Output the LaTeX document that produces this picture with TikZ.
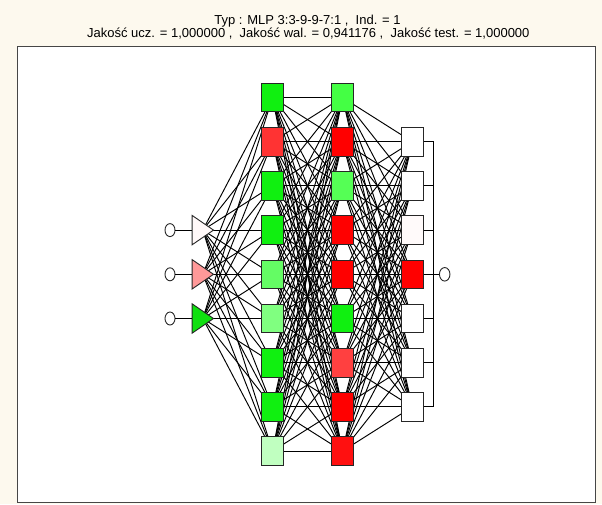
\documentclass[tikz,border=0pt]{standalone}
\usepackage{fontspec}
\setmainfont{Liberation Sans}
\usetikzlibrary{shapes.geometric}

\definecolor{cream}{RGB}{253,249,238}
\definecolor{frame}{RGB}{70,70,70}
\definecolor{gA}{RGB}{16,240,16}
\definecolor{gB}{RGB}{100,252,100}
\definecolor{gC}{RGB}{128,255,128}
\definecolor{gD}{RGB}{192,255,192}
\definecolor{gE}{RGB}{68,255,68}
\definecolor{gF}{RGB}{85,255,85}
\definecolor{gI}{RGB}{16,224,16}
\definecolor{rA}{RGB}{255,0,0}
\definecolor{rB}{RGB}{255,51,51}
\definecolor{rC}{RGB}{255,64,64}
\definecolor{rD}{RGB}{255,16,16}
\definecolor{pI}{RGB}{255,153,153}
\definecolor{wA}{RGB}{255,255,255}
\definecolor{wB}{RGB}{255,250,250}
\definecolor{wI}{RGB}{255,248,248}

\pgfdeclarelayer{back}
\pgfsetlayers{back,main}

\begin{document}
\begin{tikzpicture}[x=1pt, y=-1pt,
    unit/.style={draw=black!85, line width=0.9pt, minimum width=21.5pt, minimum height=28.5pt, inner sep=0pt},
    port/.style={ellipse, draw=black!85, fill=white, line width=0.9pt, inner sep=0pt},
    wire/.style={line width=0.95pt}]
  \useasboundingbox (0,0) rectangle (602,504);

  % title
  \node[anchor=base, font=\fontsize{13}{13}\selectfont] (t1) at (307.5,24) {Typ : MLP 3:3-9-9-7:1 ,\ \ Ind. = 1};
  \node[anchor=base, font=\fontsize{13}{13}\selectfont] (t2) at (308.3,37.3) {Jakość ucz. = 1,000000 ,\ \ Jakość wal. = 0,941176 ,\ \ Jakość test. = 1,000000};

  % hidden layers
  \foreach \c [count=\k] in {gA,rB,gA,gA,gB,gC,gA,gA,gD}
    \node[unit, fill=\c] (a\k) at (272.5, 53.3+44.2*\k) {};
  \foreach \c [count=\k] in {gE,rA,gF,rA,rA,gA,rC,rA,rD}
    \node[unit, fill=\c] (b\k) at (342.5, 53.3+44.2*\k) {};

  % output layer
  \foreach \c [count=\k] in {wA,wA,wB,rA,wA,wA,wA}
    \node[unit, fill=\c] (o\k) at (412.3, 97.5+44.2*\k) {};

  % inputs
  \foreach \c [count=\k] in {wI,pI,gI} {
    \node[minimum width=21pt, minimum height=29pt, inner sep=0pt] (i\k) at (202.8, 185.9+44.2*\k) {};
    \draw[draw=black!85, line width=0.9pt, fill=\c] (i\k.north west) -- (i\k.east) -- (i\k.south west) -- cycle;
    \node[port, minimum width=10pt, minimum height=13pt] (p\k) at (170, 185.9+44.2*\k) {};
    \draw[wire] (p\k.east) -- (i\k.west);
  }

  % output port and bus
  \node[port, minimum width=10.5pt, minimum height=13.5pt] (q) at (444.7, 274.3) {};
  \coordinate (bus) at (433.5, 274.3);
  \foreach \k in {1,...,7}
    \draw[wire] (o\k.east) -- (o\k.east -| bus);
  \draw[wire] (o1.east -| bus) -- (o7.east -| bus);
  \draw[wire] (bus) -- (q.west);

  \begin{pgfonlayer}{back}
    \fill[cream] (0,0) rectangle (602,504);
    \draw[frame, fill=white, line width=1pt] (17.3,46.5) rectangle (595,502.3);
    \foreach \i in {1,2,3}
      \foreach \j in {1,...,9}
        \draw[wire] (i\i.center) -- (a\j.center);
    \foreach \i in {1,...,9}
      \foreach \j in {1,...,9}
        \draw[wire] (a\i.center) -- (b\j.center);
    \foreach \i in {1,...,9}
      \foreach \j in {1,...,7}
        \draw[wire] (b\i.center) -- (o\j.center);
  \end{pgfonlayer}
\end{tikzpicture}
\end{document}
